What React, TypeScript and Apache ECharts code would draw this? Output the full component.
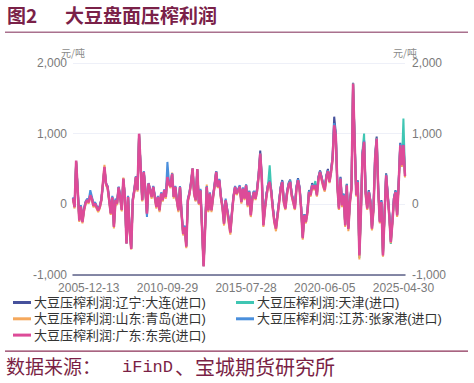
import React, { useEffect, useRef } from "react";
import * as echarts from "echarts";

const xTickLabels = ["2005-12-13", "2010-09-29", "2015-07-28", "2020-06-05", "2025-04-30"];
const xTickIndex = [10, 60, 110, 160, 210];
const yTicks = [-1000, 0, 1000, 2000];

const nameDalian = "大豆压榨利润:辽宁:大连(进口)";
const nameTianjin = "大豆压榨利润:天津(进口)";
const nameQingdao = "大豆压榨利润:山东:青岛(进口)";
const nameZjg = "大豆压榨利润:江苏:张家港(进口)";
const nameDongguan = "大豆压榨利润:广东:东莞(进口)";

const dongguan = [
  85, -40, 620, 200, -230, -30, -250, -80, 20, 60,
  30, 130, 80, -20, 10, -40, -85, -40, 60, 290,
  530, 290, 240, 60, -130, 100, -320, 60, 10, 240,
  100, -80, 364, 100, -558, 104, -370, -630, 60, 200,
  387, 200, 1000, 529, 57, 458, 200, -132, 293, 200,
  104, 246, 104, -38, 104, -85, 151, 57, 199, 104,
  387, 293, 250, 430, 104, 246, 57, -85, 246, -132,
  -420, -321, -600, 57, 151, 300, 510, 151, 57, 500,
  9, 199, -321, -880, -321, 246, -85, 151, -85, 104,
  270, 460, 246, 340, 104, -38, -275, 57, -85, -227,
  -400, -132, 104, 246, 151, 199, 250, 33, 222, 80,
  269, -14, 175, -156, 80, 175, 80, 200, 411, 718,
  364, -298, -61, 128, 269, 317, 175, -61, -251, -345,
  -156, 33, 222, 317, 33, -61, 150, 269, 317, 128,
  33, -61, 222, 340, 222, -61, -480, -156, -251, -109,
  175, 128, 269, 222, 269, 128, 364, 458, 364, 269,
  200, 380, 470, 317, 458, 648, 1120, 978, 269, -61,
  364, -14, 128, -300, 269, -350, 33, 222, 1711, 884,
  128, 317, -723, -100, 700, 884, 150, -61, 175, 33,
  -345, -61, 648, 931, 200, -251, 33, -723, -156, 411,
  128, -156, -534, -251, 80, 175, -156, 300, 837, 553,
  837, 400,
];

const zhangjiagang = [
  100, -20, 580, 220, -200, -10, -230, -60, 40, 80,
  60, 200, 110, 0, 30, -20, -60, -20, 70, 270,
  500, 300, 260, 80, -100, 120, -290, 80, 30, 250,
  120, -60, 340, 120, -520, 120, -340, -600, 80, 220,
  400, 220, 960, 540, 80, 470, 220, -180, 300, 220,
  120, 260, 130, -20, 120, -60, 170, 80, 210, 130,
  600, 320, 270, 440, 120, 260, 80, -60, 260, -110,
  -390, -300, -570, 80, 170, 320, 490, 170, 80, 480,
  30, 220, -290, -850, -300, 260, -60, 170, -60, 120,
  290, 470, 260, 360, 120, -20, -250, 80, -60, -200,
  -380, -110, 120, 260, 170, 220, 270, 50, 240, 100,
  280, 10, 190, -130, 100, 190, 100, 220, 420, 700,
  380, -270, -40, 150, 280, 330, 190, -40, -230, -320,
  -140, 50, 240, 330, 50, -40, 170, 280, 330, 150,
  50, -40, 240, 360, 240, -40, -460, -140, -230, -90,
  190, 150, 280, 240, 280, 150, 380, 470, 380, 280,
  220, 400, 480, 330, 470, 660, 1150, 990, 280, -40,
  380, 10, 150, -280, 280, -330, 50, 240, 1690, 900,
  150, 330, -700, -80, 720, 900, 170, -40, 190, 50,
  -320, -40, 660, 920, 220, -230, 50, -700, -140, 420,
  150, -140, -510, -230, 100, 190, -140, 320, 860, 560,
  850, 420,
];

const qingdao = [
  70, -60, 600, 180, -250, -50, -270, -100, 0, 40,
  10, 110, 60, -40, -10, -60, -110, -60, 40, 310,
  560, 270, 220, 40, -150, 80, -340, 40, -10, 220,
  80, -100, 380, 80, -540, 80, -390, -640, 40, 180,
  400, 180, 980, 510, 40, 440, 180, -150, 280, 180,
  80, 230, 80, -60, 80, -110, 130, 40, 180, 80,
  420, 280, 230, 450, 80, 230, 40, -110, 230, -150,
  -440, -340, -620, 40, 130, 280, 500, 130, 40, 480,
  -10, 180, -340, -870, -340, 280, -110, 130, -110, 80,
  250, 440, 230, 320, 80, -60, -300, 40, -130, -280,
  -430, -150, 80, 230, 130, 180, 230, 10, 200, 60,
  250, -40, 150, -180, 60, 150, 60, 180, 390, 690,
  340, -320, -80, 110, 250, 300, 150, -80, -270, -380,
  -180, 10, 200, 300, 10, -80, 130, 250, 300, 110,
  10, -80, 200, 320, 200, -80, -500, -180, -270, -130,
  150, 110, 250, 200, 250, 110, 340, 440, 340, 250,
  180, 360, 450, 300, 440, 620, 1090, 950, 250, -80,
  340, -40, 110, -320, 250, -380, 10, 200, 1700, 860,
  110, 300, -780, -120, 680, 860, 130, -80, 150, 10,
  -370, -80, 620, 900, 180, -270, 10, -740, -180, 390,
  110, -180, -550, -270, 60, 150, -180, 280, 810, 530,
  820, 380,
];

const dalian = [
  90, -30, 610, 210, -220, -20, -240, -70, 30, 70,
  40, 140, 90, -10, 20, -30, -75, -30, 65, 285,
  520, 295, 245, 65, -120, 105, -310, 65, 15, 245,
  105, -75, 360, 105, -550, 110, -360, -620, 65, 205,
  390, 205, 990, 525, 60, 455, 205, -125, 295, 205,
  110, 250, 110, -30, 110, -80, 155, 60, 205, 110,
  390, 300, 255, 435, 110, 250, 60, -80, 250, -125,
  -410, -315, -590, 60, 155, 305, 505, 155, 60, 495,
  15, 205, -315, -870, -315, 250, -80, 155, -80, 110,
  275, 465, 250, 345, 110, -30, -270, 60, -80, -220,
  -390, -125, 110, 250, 155, 205, 260, 40, 230, 90,
  280, 0, 190, -140, 95, 190, 95, 215, 440, 760,
  390, -280, -40, 150, 290, 340, 200, -40, -230, -330,
  -140, 50, 250, 345, 50, -40, 175, 300, 350, 150,
  50, -40, 250, 370, 240, -40, -450, -140, -230, -90,
  200, 150, 300, 240, 290, 150, 390, 480, 390, 290,
  230, 410, 500, 340, 480, 690, 1240, 1020, 300, -40,
  390, 10, 150, -280, 290, -320, 60, 250, 1720, 910,
  150, 340, -700, -80, 730, 910, 180, -40, 200, 60,
  -320, -40, 690, 960, 230, -230, 60, -700, -140, 440,
  150, -140, -510, -230, 100, 200, -140, 330, 870, 570,
  880, 420,
];

const tianjin = [
  80, -35, 600, 190, -225, -25, -245, -75, 25, 65,
  35, 135, 85, -15, 15, -35, -80, -35, 60, 280,
  520, 285, 240, 60, -125, 100, -315, 60, 10, 240,
  100, -80, 360, 100, -555, 105, -365, -625, 60, 200,
  385, 200, 995, 525, 55, 455, 200, -130, 290, 200,
  105, 245, 105, -35, 105, -85, 150, 55, 200, 105,
  385, 290, 250, 430, 105, 245, 55, -85, 245, -130,
  -415, -320, -595, 55, 150, 300, 505, 150, 55, 495,
  10, 200, -320, -875, -320, 245, -85, 150, -85, 105,
  270, 460, 245, 340, 105, -35, -270, 55, -85, -225,
  -395, -130, 105, 245, 150, 200, 255, 35, 225, 85,
  275, -5, 180, -150, 90, 185, 90, 210, 420, 720,
  370, -290, -50, 140, 290, 553, 200, -50, -240, -340,
  -150, 40, 240, 330, 40, -50, 170, 290, 340, 140,
  40, -50, 240, 350, 230, -50, -470, -150, -240, -100,
  190, 140, 280, 230, 330, 140, 380, 470, 370, 280,
  210, 390, 480, 330, 470, 660, 1130, 985, 280, -50,
  370, 0, 140, -290, 280, -340, 40, 230, 1715, 890,
  140, 330, -760, -90, 760, 1002, 170, -50, 190, 40,
  -340, -50, 660, 940, 210, -240, 40, -715, -150, 420,
  140, -150, -560, -240, 90, 185, -150, 310, 850, 560,
  1215, 430,
];

const categories = dongguan.map((_, i) => String(i));

const CJK = "'Noto Sans CJK SC', 'Noto Sans', sans-serif";
const LATIN = "'Liberation Sans', Arial, sans-serif";
const LEGEND_FONT = "'Liberation Sans', 'Noto Sans CJK SC', sans-serif";
const MONO = "'Liberation Mono', 'DejaVu Sans Mono', monospace";

function fmtThousands(v: number) {
  const s = Math.abs(v).toString().replace(/\B(?=(\d{3})+(?!\d))/g, ",");
  return (v < 0 ? "-" : "") + s;
}

export default function App() {
  const ref = useRef<HTMLDivElement>(null);
  useEffect(() => {
    if (!ref.current) return;
    const chart = echarts.init(ref.current, null, { renderer: "svg" });
    const mkSeries = (name: string, data: number[], color: string, width: number) => ({
      name,
      type: "line",
      data,
      showSymbol: false,
      symbol: "none",
      lineStyle: { color, width },
      itemStyle: { color },
      yAxisIndex: 0,
    });
    const yAxisBase = {
      type: "value",
      min: yTicks[0],
      max: yTicks[yTicks.length - 1],
      interval: 1000,
      name: "元/吨",
      nameLocation: "end",
      nameGap: 5,
      nameTextStyle: { color: "#8a8a8a", fontSize: 10, fontFamily: CJK },
      axisLine: { show: false },
      axisTick: { show: false },
    };
    const legendBase = {
      orient: "vertical",
      top: 296,
      padding: 0,
      itemWidth: 18,
      itemHeight: 3,
      itemGap: 3.3,
      icon: "rect",
      textStyle: { color: "#333333", fontSize: 13, lineHeight: 13, fontFamily: LEGEND_FONT, padding: [0, 0, 0, -2] },
    };
    chart.setOption({
      animation: false,
      backgroundColor: "#ffffff",
      grid: { left: 73, right: 69, top: 63, bottom: 108, containLabel: false },
      xAxis: {
        type: "category",
        data: categories,
        boundaryGap: false,
        axisLine: { onZero: false, lineStyle: { color: "#5d6288", width: 1.5 } },
        axisTick: { show: false },
        splitLine: { show: false },
        axisLabel: {
          interval: (i: number) => xTickIndex.includes(i),
          formatter: (_v: string, i: number) => {
            const k = xTickIndex.indexOf(i);
            return k >= 0 ? xTickLabels[k] : "";
          },
          color: "#7a7a7a",
          fontSize: 12,
          fontFamily: LATIN,
          margin: 7,
        },
      },
      yAxis: [
        {
          ...yAxisBase,
          position: "left",
          axisLabel: { color: "#7a7a7a", fontSize: 12, fontFamily: LATIN, margin: 6, formatter: (v: number) => fmtThousands(v) },
          splitLine: { show: true, lineStyle: { color: "#eef0f8", width: 1 } },
        },
        {
          ...yAxisBase,
          position: "right",
          axisLabel: { color: "#7a7a7a", fontSize: 12, fontFamily: LATIN, margin: 7, formatter: (v: number) => fmtThousands(v) },
          splitLine: { show: false },
        },
      ],
      legend: [
        { ...legendBase, left: 13, data: [nameDalian, nameQingdao, nameDongguan] },
        { ...legendBase, left: 236, data: [nameTianjin, nameZjg] },
      ],
      series: [
        mkSeries(nameDalian, dalian, "#46519c", 2),
        mkSeries(nameTianjin, tianjin, "#3fc6b3", 2),
        mkSeries(nameQingdao, qingdao, "#f5a85c", 2),
        mkSeries(nameZjg, zhangjiagang, "#4a8fdc", 2),
        mkSeries(nameDongguan, dongguan, "#dd4b98", 2.5),
      ],
      graphic: [
        { type: "text", left: 7, top: 5, style: { text: "图2", fill: "#7a2148", font: `bold 19px ${CJK}` } },
        { type: "text", left: 65, top: 5, style: { text: "大豆盘面压榨利润", fill: "#7a2148", font: `bold 19px ${CJK}` } },
        { type: "rect", shape: { x: 5, y: 31.5, width: 463, height: 1.5 }, style: { fill: "#a9718e" } },
        { type: "rect", shape: { x: 5, y: 350.5, width: 463, height: 1.2 }, style: { fill: "#8b3157" } },
        { type: "text", left: 6, top: 356, style: { text: "数据来源：", fill: "#7a1f45", font: `19px ${CJK}` } },
        { type: "text", left: 122, top: 359, style: { text: "iFinD", fill: "#7a1f45", font: `17px ${MONO}` } },
        { type: "text", left: 175, top: 356, style: { text: "、宝城期货研究所", fill: "#7a1f45", font: `20px ${CJK}` } },
      ],
    });
    return () => chart.dispose();
  }, []);
  return <div ref={ref} style={{ position: "fixed", left: 0, top: 0, width: 474, height: 383 }} />;
}
